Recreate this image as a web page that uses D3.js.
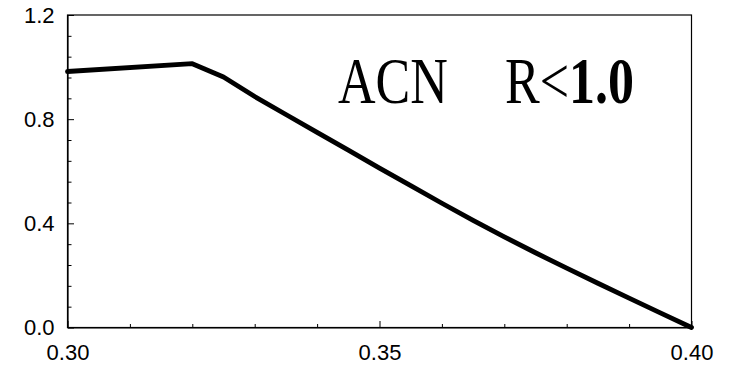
<!DOCTYPE html>
<html>
<head>
<meta charset="utf-8">
<script src="https://cdn.jsdelivr.net/npm/d3@7"></script>
<style>
  html, body { margin: 0; padding: 0; background: #fff; }
  svg { display: block; }
  .note { font-family: "Times New Roman", Times, "Liberation Serif", "Nimbus Roman", "Nimbus Roman No9 L", FreeSerif, Tinos, "DejaVu Serif", "Noto Serif", serif; }
</style>
</head>
<body>
<svg id="chart" width="730" height="367"></svg>
<script>
// Curve samples: ratio x vs response y
const xValues = [0.300, 0.320, 0.325, 0.330, 0.335, 0.340, 0.345, 0.350, 0.355, 0.360, 0.365, 0.370, 0.375, 0.380, 0.385, 0.390, 0.395, 0.400];
const yValues = [0.983, 1.013, 0.962, 0.887, 0.818, 0.749, 0.681, 0.612, 0.545, 0.477, 0.411, 0.348, 0.287, 0.228, 0.170, 0.113, 0.056, 0.000];

const xTickLabels = ["0.30", "0.35", "0.40"];
const yTickLabels = ["0.0", "0.4", "0.8", "1.2"];
const xMinorTicks = [0.31, 0.32, 0.33, 0.34, 0.36, 0.37, 0.38, 0.39];
const yMinorTicks = [0.08, 0.16, 0.24, 0.32, 0.48, 0.56, 0.64, 0.72, 0.88, 0.96, 1.04, 1.12];

const svg = d3.select("#chart");
const plotLeft = 67.5, plotRight = 691.5, plotTop = 15, plotBottom = 327.5;

const x = d3.scaleLinear().domain([0.30, 0.40]).range([plotLeft, plotRight]);
const y = d3.scaleLinear().domain([0, 1.2]).range([plotBottom, plotTop]);

const labelFont = "'Liberation Sans', Arial, sans-serif";

// Plot frame
svg.append("rect")
  .attr("x", plotLeft).attr("y", plotTop)
  .attr("width", plotRight - plotLeft).attr("height", plotBottom - plotTop)
  .attr("fill", "none").attr("stroke", "#000").attr("stroke-width", 1.2);

// Bottom axis: major ticks with labels, minor ticks, all pointing inward
const xAxis = d3.axisBottom(x)
  .tickValues(xTickLabels.map(Number))
  .tickFormat((d, i) => xTickLabels[i])
  .tickSizeInner(-6.5).tickSizeOuter(0).tickPadding(17);
const gx = svg.append("g").attr("transform", `translate(0,${plotBottom})`).call(xAxis);
gx.select(".domain").attr("stroke-width", 1.2);
gx.selectAll(".tick line").attr("stroke-width", 1);
gx.selectAll(".tick text").attr("font-family", labelFont).attr("font-size", 22).attr("fill", "#000").attr("dy", "0.71em");

const xMinor = d3.axisBottom(x).tickValues(xMinorTicks).tickFormat("").tickSizeInner(-3.5).tickSizeOuter(0);
const gxm = svg.append("g").attr("transform", `translate(0,${plotBottom})`).call(xMinor);
gxm.select(".domain").remove();

// Left axis
const yAxis = d3.axisLeft(y)
  .tickValues(yTickLabels.map(Number))
  .tickFormat((d, i) => yTickLabels[i])
  .tickSizeInner(-6.5).tickSizeOuter(0).tickPadding(13);
const gy = svg.append("g").attr("transform", `translate(${plotLeft},0)`).call(yAxis);
gy.select(".domain").attr("stroke-width", 1.2);
gy.selectAll(".tick line").attr("stroke-width", 1);
gy.selectAll(".tick text").attr("font-family", labelFont).attr("font-size", 22).attr("fill", "#000");

const yMinor = d3.axisLeft(y).tickValues(yMinorTicks).tickFormat("").tickSizeInner(-4).tickSizeOuter(0);
const gym = svg.append("g").attr("transform", `translate(${plotLeft},0)`).call(yMinor);
gym.select(".domain").remove();

// Curve
const line = d3.line().x(d => x(d[0])).y(d => y(d[1]));
svg.append("path")
  .datum(xValues.map((v, i) => [v, yValues[i]]))
  .attr("d", line)
  .attr("fill", "none")
  .attr("stroke", "#000")
  .attr("stroke-width", 4.8)
  .attr("stroke-linejoin", "round")
  .attr("stroke-linecap", "round");

// Annotation
const note = svg.append("text")
  .attr("class", "note")
  .attr("transform", "translate(0,102.5) scale(1,1.28)")
  .attr("font-size", 52)
  .attr("fill", "#000");
note.append("tspan").attr("x", 338).attr("y", 0).text("ACN");
note.append("tspan").attr("x", 505).attr("y", 0).text("R<");
note.append("tspan").attr("font-weight", "bold").text("1.0");
</script>
</body>
</html>
